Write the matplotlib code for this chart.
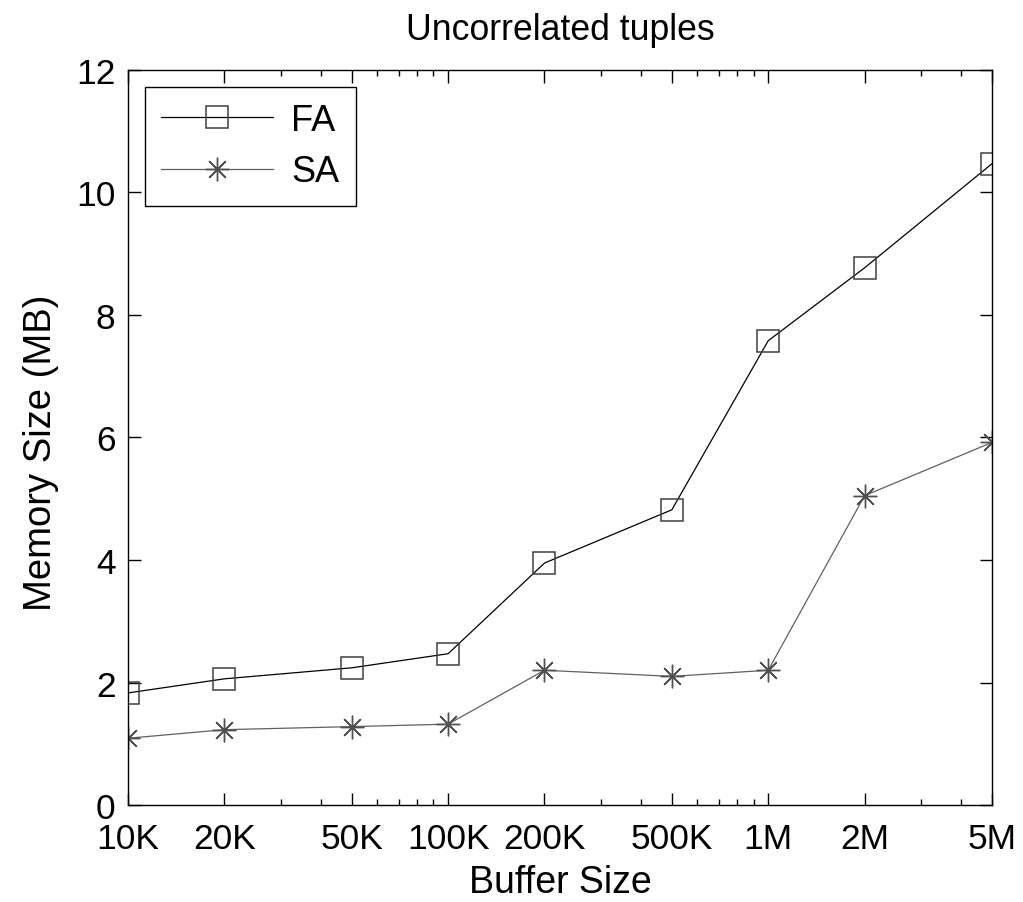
import numpy as np
import matplotlib
matplotlib.use('Agg')
import matplotlib.pyplot as plt
from matplotlib.ticker import FixedLocator, LogLocator, NullFormatter

# buffer sizes and memory (MB)
buffer_sizes = [1e4, 2e4, 5e4, 1e5, 2e5, 5e5, 1e6, 2e6, 5e6]
tick_labels = ['10K', '20K', '50K', '100K', '200K', '500K', '1M', '2M', '5M']
fa_mem = [1.83, 2.06, 2.24, 2.47, 3.95, 4.82, 7.58, 8.77, 10.47]
sa_mem = [1.09, 1.23, 1.28, 1.32, 2.20, 2.10, 2.20, 5.05, 5.92]

plt.rcParams['font.family'] = ['Liberation Sans', 'DejaVu Sans']
plt.rcParams['font.size'] = 25.5

fig = plt.figure(figsize=(10.23, 9.03), dpi=100)
ax = fig.add_axes([0.1251, 0.1074, 0.8446, 0.814])

ax.plot(buffer_sizes, fa_mem, color='black', lw=0.9, marker='s', markersize=16,
        markerfacecolor='none', markeredgecolor='#404040', markeredgewidth=1.1, label='FA')
ax.plot(buffer_sizes, sa_mem, color='#606060', lw=0.9, marker=(8, 2, 0), markersize=17,
        markeredgecolor='#505050', markeredgewidth=1.0, label='SA')

ax.set_xscale('log')
ax.set_xlim(1e4, 5e6)
ax.set_ylim(0, 12)
ax.xaxis.set_major_locator(FixedLocator(buffer_sizes))
ax.set_xticklabels(tick_labels)
ax.xaxis.set_minor_locator(LogLocator(base=10, subs=np.arange(2, 10)))
ax.xaxis.set_minor_formatter(NullFormatter())
ax.set_yticks([0, 2, 4, 6, 8, 10, 12])

ax.tick_params(which='both', direction='in', top=True, right=True, width=1)
ax.tick_params(which='major', length=9, labelsize=25.5)
ax.tick_params(axis='x', which='major', pad=12)
ax.tick_params(axis='y', which='major', pad=9)
ax.tick_params(which='minor', length=4.5)
for s in ax.spines.values():
    s.set_linewidth(1.0)

ax.set_xlabel('Buffer Size', fontsize=27, labelpad=7)
ax.set_ylabel('Memory Size (MB)', fontsize=27.5, labelpad=12)
ax.yaxis.label.set_y(0.48)
ax.set_title('Uncorrelated tuples', fontsize=25.7, pad=22)

leg = ax.legend(loc='upper left', bbox_to_anchor=(0.0197, 0.977), fancybox=False,
                edgecolor='black', framealpha=1, fontsize=26, handlelength=3.1,
                handletextpad=0.5, borderpad=0.45, borderaxespad=0, labelspacing=0.45)
leg.get_frame().set_linewidth(1.0)

fig.savefig('out.png', dpi=100)
